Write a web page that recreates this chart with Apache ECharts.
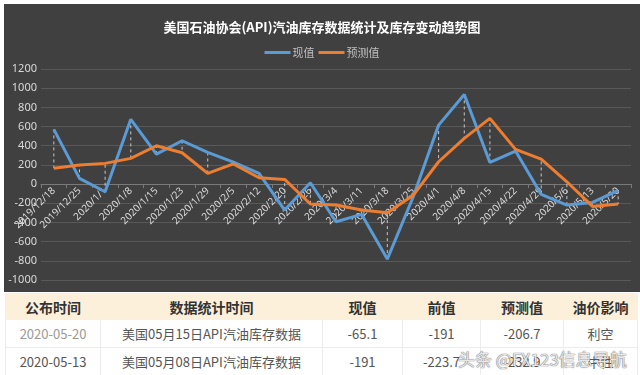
<!DOCTYPE html>
<html>
<head>
<meta charset="utf-8">
<script src="https://cdn.jsdelivr.net/npm/echarts@6/dist/echarts.min.js"></script>
<style>
    body { margin: 0; background: #ffffff; font-family: "Noto Sans CJK SC", "Noto Sans", sans-serif; }
    #wrap { position: relative; width: 640px; height: 375px; overflow: hidden; }
    #chart { position: absolute; left: 4px; top: 4px; width: 636px; height: 288px; }
    #tbl { position: absolute; left: 5px; top: 293px; width: 632px; border-collapse: collapse; table-layout: fixed; }
    #tbl td, #tbl th { border: 1px solid #ececec; text-align: center; padding: 0; font-size: 13px; white-space: nowrap; }
    #tbl th { background: #fdf0da; color: #333; font-weight: bold; font-size: 14px; height: 25px; border-color: #fdf0da; }
    #tbl td { color: #555; height: 27px; }
    #tbl td.light { color: #999; }
    #wm { position: absolute; left: 458px; top: 346px; font-size: 17px; color: rgba(255,255,255,0.85);
          text-shadow: 0 0 1px #666, 0 0 1px #666; }
</style>
</head>
<body>
<div id="wrap">
    <div id="chart"></div>
    <table id="tbl">
        <colgroup>
            <col style="width:95px"><col style="width:222px"><col style="width:80px">
            <col style="width:78px"><col style="width:83px"><col style="width:74px">
        </colgroup>
        <tbody id="tbody"></tbody>
    </table>
    <div id="wm">头条 @FX123信息导航</div>
</div>
<script>
    // 横轴日期
    var dates = ['2019/12/18', '2019/12/25', '2020/1/1', '2020/1/8', '2020/1/15', '2020/1/23', '2020/1/29',
        '2020/2/5', '2020/2/12', '2020/2/20', '2020/2/26', '2020/3/4', '2020/3/11', '2020/3/18', '2020/3/25',
        '2020/4/1', '2020/4/8', '2020/4/15', '2020/4/22', '2020/4/29', '2020/5/6', '2020/5/13', '2020/5/20'];
    // 现值
    var actual = [570, 60, -80, 675, 313, 452, 330, 230, 111, -271, 14, -393, -316, -782, -140,
        615, 935, 226, 344, -108, -219, -191, -65.1];
    // 预测值
    var forecast = [164, 198, 216, 268, 400, 327, 111, 210, 66, 49, -208, -219, -271, -299, -120,
        233, 477, 685, 362, 261, 24, -232.9, -206.7];

    // 表格
    var tableHead = ['公布时间', '数据统计时间', '现值', '前值', '预测值', '油价影响'];
    var tableRows = [
        ['2020-05-20', '美国05月15日API汽油库存数据', '-65.1', '-191', '-206.7', '利空'],
        ['2020-05-13', '美国05月08日API汽油库存数据', '-191', '-223.7', '-232.9', '中性']
    ];

    var html = '<tr>';
    for (var i = 0; i < tableHead.length; i++) {
        html += '<th>' + tableHead[i] + '</th>';
    }
    html += '</tr>';
    for (var r = 0; r < tableRows.length; r++) {
        html += '<tr>';
        for (var c = 0; c < tableRows[r].length; c++) {
            var cls = (r === 0 && c === 0) ? ' class="light"' : '';
            html += '<td' + cls + '>' + tableRows[r][c] + '</td>';
        }
        html += '</tr>';
    }
    document.getElementById('tbody').innerHTML = html;

    // 高低连线数据
    var dropData = [];
    for (var k = 0; k < dates.length; k++) {
        dropData.push([k, actual[k], forecast[k]]);
    }

    var myChart = echarts.init(document.getElementById('chart'));
    var option = {
        backgroundColor: '#404040',
        animation: false,
        title: {
            text: '美国石油协会(API)汽油库存数据统计及库存变动趋势图',
            left: 'center',
            top: 12,
            textStyle: {
                color: '#ffffff',
                fontSize: 13,
                fontWeight: 'bold',
                fontFamily: 'Noto Sans CJK SC'
            }
        },
        legend: {
            top: 38,
            left: 'center',
            itemWidth: 26,
            itemHeight: 3,
            itemGap: 4,
            icon: 'rect',
            textStyle: {
                color: '#bfbfbf',
                fontSize: 11,
                padding: [0, 0, 0, -3],
                fontFamily: 'Noto Sans CJK SC'
            },
            data: ['现值', '预测值']
        },
        grid: {
            left: 37,
            right: 9,
            top: 65,
            bottom: 12,
            containLabel: false,
            outerBoundsMode: 'none'
        },
        xAxis: {
            type: 'category',
            data: dates,
            boundaryGap: true,
            axisLine: {
                onZero: false,
                lineStyle: { color: '#7a7a7a' }
            },
            axisTick: {
                show: true,
                length: 4,
                lineStyle: { color: '#7a7a7a' }
            },
            axisLabel: {
                interval: 0,
                rotate: 45,
                margin: 5,
                color: '#d9d9d9',
                fontSize: 10,
                fontFamily: 'Noto Sans'
            },
            splitLine: { show: false }
        },
        yAxis: {
            type: 'value',
            min: -1000,
            max: 1200,
            interval: 200,
            axisLine: { show: false },
            axisTick: { show: false },
            axisLabel: {
                margin: 4,
                color: '#d9d9d9',
                fontSize: 11,
                fontFamily: 'Noto Sans',
                formatter: function (v) { return String(v); }
            },
            splitLine: {
                lineStyle: { color: '#595959', width: 1 }
            }
        },
        series: [
            {
                name: 'drop',
                type: 'custom',
                silent: true,
                z: 1,
                encode: { x: 0, y: [1, 2] },
                renderItem: function (params, api) {
                    var p1 = api.coord([api.value(0), api.value(1)]);
                    var p2 = api.coord([api.value(0), api.value(2)]);
                    return {
                        type: 'line',
                        shape: { x1: p1[0], y1: p1[1], x2: p2[0], y2: p2[1] },
                        style: { stroke: '#c8c8c8', lineWidth: 1, lineDash: [3, 3] }
                    };
                },
                data: dropData
            },
            {
                name: '现值',
                type: 'line',
                z: 3,
                showSymbol: false,
                color: '#5b9bd5',
                lineStyle: { width: 3, color: '#5b9bd5' },
                data: actual
            },
            {
                name: '预测值',
                type: 'line',
                z: 4,
                showSymbol: false,
                color: '#ed7d31',
                lineStyle: { width: 3, color: '#ed7d31' },
                data: forecast
            }
        ]
    };
    myChart.setOption(option);

    // 横轴移到 0 的位置（标签跟随）
    var zeroY = myChart.convertToPixel({ yAxisIndex: 0 }, 0);
    var bottomY = myChart.convertToPixel({ yAxisIndex: 0 }, -1000);
    myChart.setOption({ xAxis: { offset: -(bottomY - zeroY) } });
</script>
</body>
</html>
